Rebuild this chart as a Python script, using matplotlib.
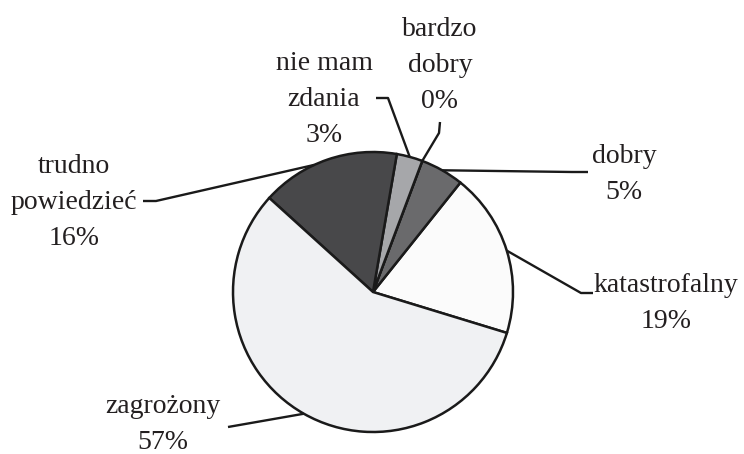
import matplotlib.pyplot as plt
import numpy as np

# ---- data ----
categories = ["katastrofalny", "dobry", "bardzo dobry", "nie mam zdania",
              "trudno powiedzieć", "zagrożony"]
values = [19, 5, 0, 3, 16, 57]
label_lines = [["katastrofalny"], ["dobry"], ["bardzo", "dobry"],
               ["nie mam", "zdania"], ["trudno", "powiedzieć"], ["zagrożony"]]
colors = ["#fbfbfb", "#6a6a6c", "#ffffff", "#a6a7aa", "#48484a", "#f0f1f3"]

# ---- layout (image pixel coordinates, y downwards) ----
W, H = 744, 454
label_x = [666, 624, 440, 324, 74, 163]
label_y0 = [292, 163, 36, 70, 173, 413]
leader_paths = [[(593, 293), (581, 293)],
                [(588, 172), (572, 172)],
                [(440, 122), (439, 133)],
                [(376, 98), (388, 98)],
                [(143, 201), (156, 201)],
                [(228, 427)]]
anchor_frac = [0.5, 0.5, 0.5, 0.5, 0.6, 0.5]
line_step = 36

plt.rcParams['font.family'] = ['Liberation Serif', 'DejaVu Serif']

fig = plt.figure(figsize=(W / 100, H / 100), dpi=100)
ax = fig.add_axes([0, 0, 1, 1])
cx, cy, R = 373, H - 292, 140

res = ax.pie(values, colors=colors, startangle=-17, counterclock=True,
             center=(cx, cy), radius=R,
             wedgeprops=dict(edgecolor='#1a1a1a', linewidth=1.8))
wedges = res[0]
ax.set_xlim(0, W)
ax.set_ylim(0, H)
ax.set_aspect('equal')
ax.axis('off')

for i, w in enumerate(wedges):
    lines = label_lines[i] + [f"{values[i]}%"]
    for j, t in enumerate(lines):
        ax.text(label_x[i], H - (label_y0[i] + j * line_step), t,
                ha='center', va='baseline', fontsize=20, color='#231f20')
    ang = np.deg2rad(w.theta1 + anchor_frac[i] * (w.theta2 - w.theta1))
    ex, ey = cx + R * np.cos(ang), cy + R * np.sin(ang)
    xs = [p[0] for p in leader_paths[i]] + [ex]
    ys = [H - p[1] for p in leader_paths[i]] + [ey]
    ax.plot(xs, ys, color='#1a1a1a', lw=1.7, solid_capstyle='butt')

fig.savefig('out.png', dpi=100, facecolor='white')
